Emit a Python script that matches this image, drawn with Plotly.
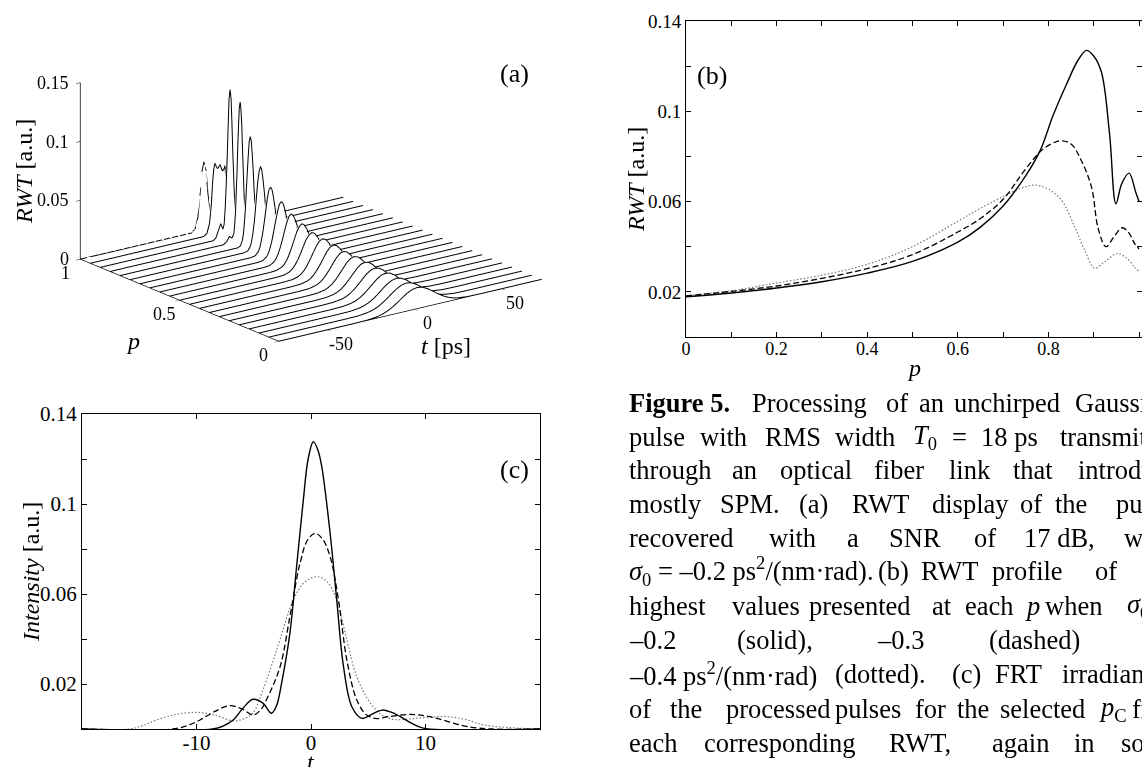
import plotly.graph_objects as go

# ---------------- panel (a): RWT waterfall ----------------
WF_P = [0.00, 0.05, 0.10, 0.15, 0.20, 0.25, 0.30, 0.35, 0.40, 0.45, 0.50,
        0.55, 0.60, 0.65, 0.70, 0.75, 0.80, 0.85, 0.90, 0.95, 1.00]

WF_T = [
    [-78, -35.3, -27.3, -21.5, -18.6, -15.8, -12.9, -10.0, -7.1, -4.3, -1.4, 1.5, 4.4, 7.3, 10.1, 13.0, 15.9, 18.8, 21.6, 24.5, 30.3, 38.3, 73],
    [-78, -34.2, -26.5, -21.0, -18.3, -15.5, -12.8, -10.0, -7.3, -4.5, -1.8, 1.0, 3.8, 6.5, 9.3, 12.0, 14.8, 17.5, 20.3, 23.0, 28.5, 36.2, 73],
    [-78, -32.6, -25.3, -20.0, -17.4, -14.8, -12.1, -9.5, -6.9, -4.3, -1.6, 1.0, 3.6, 6.3, 8.9, 11.5, 14.1, 16.8, 19.4, 22.0, 27.3, 34.6, 73],
    [-78, -31.5, -24.5, -19.5, -17.0, -14.5, -12.0, -9.5, -7.0, -4.5, -2.0, 0.5, 3.0, 5.5, 8.0, 10.5, 13.0, 15.5, 18.0, 20.5, 25.5, 32.5, 73],
    [-78, -30.4, -23.8, -19.0, -16.6, -14.3, -11.9, -9.5, -7.1, -4.8, -2.4, 0.0, 2.4, 4.8, 7.1, 9.5, 11.9, 14.3, 16.6, 19.0, 23.8, 30.4, 73],
    [-78, -28.8, -22.5, -18.0, -15.8, -13.5, -11.3, -9.0, -6.8, -4.5, -2.3, 0.0, 2.3, 4.5, 6.8, 9.0, 11.3, 13.5, 15.8, 18.0, 22.5, 28.8, 73],
    [-78, -27.7, -21.8, -17.5, -15.4, -13.3, -11.1, -9.0, -6.9, -4.8, -2.6, -0.5, 1.6, 3.8, 5.9, 8.0, 10.1, 12.3, 14.4, 16.5, 20.8, 26.7, 73],
    [-78, -26.6, -21.0, -17.0, -15.0, -13.0, -11.0, -9.0, -7.0, -5.0, -3.0, -1.0, 1.0, 3.0, 5.0, 7.0, 9.0, 11.0, 13.0, 15.0, 19.0, 24.6, 73],
    [-78, -25.0, -19.8, -16.0, -14.1, -12.3, -10.4, -8.5, -6.6, -4.8, -2.9, -1.0, 0.9, 2.8, 4.6, 6.5, 8.4, 10.3, 12.1, 14.0, 17.8, 23.0, 73],
    [-78, -23.9, -19.0, -15.5, -13.8, -12.0, -10.3, -8.5, -6.8, -5.0, -3.3, -1.5, 0.3, 2.0, 3.8, 5.5, 7.3, 9.0, 10.8, 12.5, 16.0, 20.9, 73],
    [-78, -22.8, -18.3, -15.0, -13.4, -11.8, -10.1, -8.5, -6.9, -5.3, -3.6, -2.0, -0.4, 1.3, 2.9, 4.5, 6.1, 7.8, 9.4, 11.0, 14.3, 18.8, 73],
    [-78, -20.4, -16.4, -13.5, -12.1, -10.6, -9.2, -7.8, -6.3, -4.9, -3.4, -2.0, -0.6, 0.9, 2.3, 3.8, 5.2, 6.6, 8.1, 9.5, 12.4, 16.4, 73],
    [-78, -18.5, -15.0, -12.5, -11.3, -10.0, -8.8, -7.5, -6.3, -5.0, -3.8, -2.5, -1.3, 0.0, 1.3, 2.5, 3.8, 5.0, 6.3, 7.5, 10.0, 13.5, 73],
    [-78, -16.1, -13.1, -11.0, -9.9, -8.9, -7.8, -6.8, -5.7, -4.6, -3.6, -2.5, -1.4, -0.4, 0.7, 1.8, 2.8, 3.9, 4.9, 6.0, 8.1, 11.1, 73],
    [-78, -14.2, -11.8, -10.0, -9.1, -8.3, -7.4, -6.5, -5.6, -4.8, -3.9, -3.0, -2.1, -1.3, -0.4, 0.5, 1.4, 2.3, 3.1, 4.0, 5.8, 8.2, 73],
    [-78, -12.3, -10.3, -8.8, -8.1, -7.4, -6.6, -5.9, -5.2, -4.5, -3.7, -3.0, -2.3, -1.6, -0.8, -0.1, 0.6, 1.4, 2.1, 2.8, 4.3, 6.3, 73],
    [-78, -10.4, -8.8, -7.7, -7.1, -6.6, -6.0, -5.5, -4.9, -4.3, -3.8, -3.2, -2.6, -2.1, -1.5, -1.0, -0.4, 0.2, 0.7, 1.3, 2.4, 4.0, 73],
    [-78, -13, -11, -9.5, -8.0, -6.9, -6.5, -6.0, -5.6, -5.1, -4.7, -4.2, -3.8, -3.3, -2.9, -2.4, -2.0, -1.5, -1.1, -0.6, -0.2, 0.3, 1.2, 2.5, 4.0, 6.0, 73],
    [-78, -13, -11.5, -10, -8.8, -7.5, -6.8, -6.2, -5.6, -5.0, -4.5, -4.0, -3.4, -2.8, -2.3, -1.8, -1.2, -0.6, 0, 0.6, 1.3, 2.3, 3.5, 5, 73],
    [-78, -13, -11, -9.5, -8.5, -7.7, -7.0, -6.4, -5.6, -4.9, -4.2, -3.5, -2.8, -2.1, -1.3, -0.6, 0.2, 1.0, 1.8, 2.8, 4.0, 5.5, 73],
    [-78, -14, -12, -10.5, -9.3, -8.2, -7.0, -5.8, -4.7, -3.5, -2.5, -1.5, -0.5, 0.5, 2, 4, 73],
]

WF_V = [
    [0, 0, 0.0002, 0.0011, 0.0022, 0.0038, 0.0061, 0.0090, 0.0122, 0.0151, 0.0172, 0.0180, 0.0172, 0.0151, 0.0122, 0.0090, 0.0061, 0.0038, 0.0022, 0.0011, 0.0002, 0, 0],
    [0, 0, 0.0002, 0.0012, 0.0022, 0.0039, 0.0063, 0.0093, 0.0125, 0.0156, 0.0177, 0.0185, 0.0177, 0.0156, 0.0125, 0.0093, 0.0063, 0.0039, 0.0022, 0.0012, 0.0002, 0, 0],
    [0, 0, 0.0002, 0.0012, 0.0023, 0.0040, 0.0064, 0.0095, 0.0129, 0.0160, 0.0182, 0.0190, 0.0182, 0.0160, 0.0129, 0.0095, 0.0064, 0.0040, 0.0023, 0.0012, 0.0002, 0, 0],
    [0, 0, 0.0003, 0.0013, 0.0024, 0.0042, 0.0068, 0.0100, 0.0135, 0.0168, 0.0192, 0.0200, 0.0192, 0.0168, 0.0135, 0.0100, 0.0068, 0.0042, 0.0024, 0.0013, 0.0003, 0, 0],
    [0, 0, 0.0003, 0.0013, 0.0025, 0.0044, 0.0071, 0.0105, 0.0142, 0.0177, 0.0201, 0.0210, 0.0201, 0.0177, 0.0142, 0.0105, 0.0071, 0.0044, 0.0025, 0.0013, 0.0003, 0, 0],
    [0, 0, 0.0003, 0.0014, 0.0027, 0.0047, 0.0076, 0.0113, 0.0152, 0.0189, 0.0216, 0.0225, 0.0216, 0.0189, 0.0152, 0.0113, 0.0076, 0.0047, 0.0027, 0.0014, 0.0003, 0, 0],
    [0, 0, 0.0003, 0.0015, 0.0029, 0.0050, 0.0081, 0.0120, 0.0162, 0.0202, 0.0230, 0.0240, 0.0230, 0.0202, 0.0162, 0.0120, 0.0081, 0.0050, 0.0029, 0.0015, 0.0003, 0, 0],
    [0, 0, 0.0003, 0.0016, 0.0030, 0.0053, 0.0085, 0.0125, 0.0169, 0.0210, 0.0240, 0.0250, 0.0240, 0.0210, 0.0169, 0.0125, 0.0085, 0.0053, 0.0030, 0.0016, 0.0003, 0, 0],
    [0, 0, 0.0004, 0.0017, 0.0032, 0.0057, 0.0092, 0.0135, 0.0183, 0.0227, 0.0259, 0.0270, 0.0259, 0.0227, 0.0183, 0.0135, 0.0092, 0.0057, 0.0032, 0.0017, 0.0004, 0, 0],
    [0, 0, 0.0004, 0.0018, 0.0035, 0.0061, 0.0098, 0.0145, 0.0196, 0.0244, 0.0278, 0.0290, 0.0278, 0.0244, 0.0196, 0.0145, 0.0098, 0.0061, 0.0035, 0.0018, 0.0004, 0, 0],
    [0, 0, 0.0004, 0.0019, 0.0037, 0.0065, 0.0105, 0.0155, 0.0210, 0.0261, 0.0297, 0.0310, 0.0297, 0.0261, 0.0210, 0.0155, 0.0105, 0.0065, 0.0037, 0.0019, 0.0004, 0, 0],
    [0, 0, 0.0005, 0.0022, 0.0042, 0.0074, 0.0119, 0.0175, 0.0237, 0.0294, 0.0335, 0.0350, 0.0335, 0.0294, 0.0237, 0.0175, 0.0119, 0.0074, 0.0042, 0.0022, 0.0005, 0, 0],
    [0, 0, 0.0005, 0.0025, 0.0048, 0.0084, 0.0136, 0.0200, 0.0271, 0.0336, 0.0383, 0.0400, 0.0383, 0.0336, 0.0271, 0.0200, 0.0136, 0.0084, 0.0048, 0.0025, 0.0005, 0, 0],
    [0, 0, 0.0006, 0.0029, 0.0056, 0.0099, 0.0159, 0.0235, 0.0318, 0.0395, 0.0450, 0.0470, 0.0450, 0.0395, 0.0318, 0.0235, 0.0159, 0.0099, 0.0056, 0.0029, 0.0006, 0, 0],
    [0, 0, 0.0007, 0.0035, 0.0067, 0.0118, 0.0190, 0.0280, 0.0379, 0.0471, 0.0536, 0.0560, 0.0536, 0.0471, 0.0379, 0.0280, 0.0190, 0.0118, 0.0067, 0.0035, 0.0007, 0, 0],
    [0, 0, 0.0009, 0.0044, 0.0084, 0.0147, 0.0237, 0.0350, 0.0474, 0.0589, 0.0671, 0.0700, 0.0671, 0.0589, 0.0474, 0.0350, 0.0237, 0.0147, 0.0084, 0.0044, 0.0009, 0, 0],
    [0, 0, 0.0012, 0.0058, 0.0110, 0.0193, 0.0312, 0.0460, 0.0623, 0.0774, 0.0881, 0.0920, 0.0881, 0.0774, 0.0623, 0.0460, 0.0312, 0.0193, 0.0110, 0.0058, 0.0012, 0, 0],
    [0, 0, 0.002, 0.006, 0.004, 0.0074, 0.0142, 0.0248, 0.040, 0.059, 0.0799, 0.0992, 0.113, 0.118, 0.113, 0.0992, 0.0799, 0.059, 0.040, 0.0248, 0.0142, 0.0074, 0.002, 0.005, 0.001, 0, 0],
    [0, 0, 0.002, 0.008, 0.013, 0.008, 0.012, 0.025, 0.045, 0.070, 0.095, 0.117, 0.125, 0.117, 0.095, 0.070, 0.045, 0.022, 0.008, 0.004, 0.006, 0.008, 0.003, 0, 0],
    [0, 0, 0.002, 0.010, 0.025, 0.045, 0.056, 0.060, 0.057, 0.055, 0.056, 0.058, 0.055, 0.052, 0.053, 0.056, 0.036, 0.012, 0.003, 0.004, 0.003, 0, 0],
    [0, 0, 0.003, 0.012, 0.030, 0.050, 0.058, 0.050, 0.030, 0.016, 0.020, 0.030, 0.030, 0.020, 0.008, 0, 0],
]

# ---------------- panel (b): RWT profile of highest values ----------------
B_P_SOLID = [0, 0.1, 0.2, 0.3, 0.4, 0.5, 0.6, 0.65, 0.7, 0.75, 0.782, 0.81, 0.84, 0.865,
             0.884, 0.9, 0.917, 0.935, 0.949, 0.962, 0.978, 0.993, 1.0]
B_V_SOLID = [0.0178, 0.0195, 0.0217, 0.0245, 0.0283, 0.0335, 0.042, 0.0487, 0.058, 0.0715,
             0.0827, 0.098, 0.112, 0.1225, 0.127, 0.1245, 0.1174, 0.090, 0.059, 0.068,
             0.0726, 0.064, 0.060]
B_P_DASHED = [0, 0.1, 0.2, 0.3, 0.4, 0.5, 0.6, 0.65, 0.7, 0.75, 0.79, 0.826, 0.85, 0.873,
              0.895, 0.91, 0.927, 0.945, 0.963, 0.978, 0.99, 1.0]
B_V_DASHED = [0.0182, 0.0202, 0.0226, 0.026, 0.0303, 0.0365, 0.0465, 0.0525, 0.061, 0.0745,
              0.0835, 0.0869, 0.0855, 0.078, 0.0665, 0.048, 0.040, 0.0445, 0.0484, 0.046,
              0.0415, 0.039]
B_P_DOTTED = [0, 0.1, 0.2, 0.3, 0.4, 0.5, 0.6, 0.65, 0.7, 0.74, 0.771, 0.8, 0.829, 0.858,
              0.88, 0.902, 0.925, 0.952, 0.975, 0.99, 1.0]
B_V_DOTTED = [0.0183, 0.0205, 0.0239, 0.0274, 0.0322, 0.040, 0.0513, 0.057, 0.0622, 0.0660,
              0.0673, 0.0655, 0.0606, 0.0488, 0.0385, 0.0305, 0.0335, 0.037, 0.0345, 0.031,
              0.029]

# ---------------- panel (c): FRT irradiance ----------------
C_T_SOLID = [-20, -8.6, -7.6, -6.8, -5.9, -5.06, -4.2, -3.45, -3.0, -2.57, -1.84, -1.26,
             -0.67, -0.25, 0.2, 0.6, 0.94, 1.67, 2.25, 2.84, 3.57, 4.45, 5.3, 6.2, 7.0,
             7.8, 8.8, 9.8, 20]
C_V_SOLID = [0, 0, 0.0015, 0.004, 0.0095, 0.0132, 0.0115, 0.0070, 0.0105, 0.0203, 0.0427,
             0.072, 0.1018, 0.120, 0.1277, 0.124, 0.1166, 0.087, 0.0573, 0.0277, 0.0099,
             0.0047, 0.0065, 0.0084, 0.0075, 0.0055, 0.0025, 0.0004, 0]
C_T_DASHED = [-20, -12.1, -10.8, -9.7, -8.4, -7.1, -6.0, -5.06, -4.4, -3.9, -2.7, -1.84,
              -0.96, -0.3, 0.35, 1.0, 1.67, 2.4, 3.13, 4.0, 4.8, 5.6, 6.8, 8.7, 10.0, 11.0,
              12.3, 13.7, 15.8, 20]
C_V_DASHED = [0, 0, 0.0015, 0.004, 0.0078, 0.0104, 0.0088, 0.0062, 0.0085, 0.0129, 0.0277,
              0.050, 0.0737, 0.084, 0.087, 0.0845, 0.0766, 0.0573, 0.0307, 0.0129, 0.0065,
              0.0047, 0.0055, 0.0065, 0.0058, 0.0047, 0.0028, 0.001, 0, 0]
C_T_DOTTED = [-20, -15.9, -14.7, -13.5, -11.8, -10.0, -8.4, -6.8, -5.9, -5.1, -4.2, -3.0,
              -1.55, -0.6, 0.5, 1.4, 2.25, 3.13, 4.0, 5.2, 6.2, 7.3, 8.6, 10.2, 11.9, 13.5,
              15.1, 18.0, 20]
C_V_DOTTED = [0, 0, 0.0015, 0.004, 0.0065, 0.0074, 0.0062, 0.0036, 0.0045, 0.007, 0.0173,
              0.035, 0.0573, 0.065, 0.0677, 0.0655, 0.0573, 0.0396, 0.0232, 0.0114, 0.0062,
              0.0042, 0.0045, 0.0052, 0.0055, 0.0042, 0.0018, 0.0004, 0]

TICKS_A_T = [-50, 0, 50]
TICKTEXT_A_T = ["-50", "0", "50"]
TICKS_A_P = [0, 0.5, 1]
TICKTEXT_A_P = ["0", "0.5", "1"]
TICKS_A_Z = [0, 0.05, 0.1, 0.15]
TICKTEXT_A_Z = ["0", "0.05", "0.1", "0.15"]
TICKS_B_X = [0, 0.1, 0.2, 0.3, 0.4, 0.5, 0.6, 0.7, 0.8, 0.9, 1.0]
TICKTEXT_B_X = ["0", "", "0.2", "", "0.4", "", "0.6", "", "0.8", "", ""]
TICKS_Y = [0, 0.02, 0.04, 0.06, 0.08, 0.10, 0.12, 0.14]
TICKTEXT_Y = ["", "0.02", "", "0.06", "", "0.1", "", "0.14"]
TICKS_C_X = [-10, 0, 10]

T_RANGE = [-78, 73]
P_RANGE = [0, 1]
Z_RANGE = [0, 0.15]

W, H = 1142, 767
SERIF = "Liberation Serif"

fig = go.Figure()

# ---- panel (a) traces ----
for p, ts, vs in zip(WF_P, WF_T, WF_V):
    n = len(ts)
    xs, ys, zs = [], [], []
    for t, v in zip(ts, vs):
        xs += [t, t]
        ys += [p + 0.006, p + 0.006]
        zs += [0, v]
    ii, jj, kk = [], [], []
    for s in range(n - 1):
        a, b, c, d = 2 * s, 2 * s + 1, 2 * s + 2, 2 * s + 3
        ii += [a, b]
        jj += [b, d]
        kk += [c, c]
    fig.add_trace(go.Mesh3d(x=xs, y=ys, z=zs, i=ii, j=jj, k=kk, color="white",
                            flatshading=True, hoverinfo="skip", showscale=False,
                            lighting=dict(ambient=1, diffuse=0, specular=0, roughness=1, fresnel=0),
                            scene="scene"))
    fig.add_trace(go.Scatter3d(x=ts, y=[p] * n, z=vs, mode="lines",
                               line=dict(color="black", width=2), hoverinfo="skip",
                               showlegend=False, scene="scene"))

# ---- panel (b) traces ----
fig.add_trace(go.Scatter(x=B_P_DOTTED, y=B_V_DOTTED, mode="lines", line_shape="spline",
                         line=dict(color="#777777", width=1.2, dash="1.5px,2px"),
                         xaxis="x2", yaxis="y2", showlegend=False))
fig.add_trace(go.Scatter(x=B_P_DASHED, y=B_V_DASHED, mode="lines", line_shape="spline",
                         line=dict(color="black", width=1.3, dash="6px,3px"),
                         xaxis="x2", yaxis="y2", showlegend=False))
fig.add_trace(go.Scatter(x=B_P_SOLID, y=B_V_SOLID, mode="lines", line_shape="spline",
                         line=dict(color="black", width=1.4),
                         xaxis="x2", yaxis="y2", showlegend=False))

# ---- panel (c) traces ----
fig.add_trace(go.Scatter(x=C_T_DOTTED, y=C_V_DOTTED, mode="lines", line_shape="spline",
                         line=dict(color="#777777", width=1.2, dash="1.5px,2px"),
                         xaxis="x3", yaxis="y3", showlegend=False))
fig.add_trace(go.Scatter(x=C_T_DASHED, y=C_V_DASHED, mode="lines", line_shape="spline",
                         line=dict(color="black", width=1.3, dash="6px,3px"),
                         xaxis="x3", yaxis="y3", showlegend=False))
fig.add_trace(go.Scatter(x=C_T_SOLID, y=C_V_SOLID, mode="lines", line_shape="spline",
                         line=dict(color="black", width=1.4),
                         xaxis="x3", yaxis="y3", showlegend=False))


def ax3d(rng, tv):
    return dict(range=rng, tickvals=tv, showticklabels=False, showgrid=False,
                zeroline=False, showbackground=False, showline=True, linecolor="black",
                linewidth=1.5, ticks="outside", ticklen=5, tickcolor="black",
                showspikes=False, title=dict(text=""))


# tick labels of the 3-D panel, placed at the tick positions through the scene projection
tick_font = dict(family=SERIF, size=18, color="black")
scene_ann = []
for zv, zt in zip(TICKS_A_Z, TICKTEXT_A_Z):
    scene_ann.append(dict(x=T_RANGE[0], y=P_RANGE[1], z=zv, text=zt, showarrow=False,
                          xanchor="right", yanchor="middle", xshift=-9, font=tick_font))
for pv, pt in zip(TICKS_A_P, TICKTEXT_A_P):
    scene_ann.append(dict(x=T_RANGE[0], y=pv, z=0, text=pt, showarrow=False,
                          xanchor="center", yanchor="middle", xshift=-15, yshift=-14,
                          font=tick_font))
for tv, tt in zip(TICKS_A_T, TICKTEXT_A_T):
    scene_ann.append(dict(x=tv, y=P_RANGE[0], z=0, text=tt, showarrow=False,
                          xanchor="center", yanchor="middle", xshift=13, yshift=-14,
                          font=tick_font))

S = 1.82
common2d = dict(showgrid=False, zeroline=False, showline=True, linecolor="black",
                linewidth=1, ticks="inside", ticklen=5, tickcolor="black", mirror="ticks")

fig.update_layout(
    width=W, height=H, margin=dict(l=0, r=0, t=0, b=0, autoexpand=False),
    paper_bgcolor="white", plot_bgcolor="white", showlegend=False,
    font=dict(family=SERIF, color="black"),
    scene=dict(
        domain=dict(x=[0, 0.5447], y=[0.528, 1.0]),
        xaxis=ax3d(T_RANGE, TICKS_A_T),
        yaxis=ax3d(P_RANGE, TICKS_A_P),
        zaxis=ax3d(Z_RANGE, TICKS_A_Z),
        aspectmode="manual", aspectratio=dict(x=1.0 * S, y=1.0 * S, z=0.564 * S),
        camera=dict(eye=dict(x=-0.572 * 2, y=-0.758 * 2, z=0.312 * 2),
                    up=dict(x=0, y=0, z=1), center=dict(x=0, y=0, z=0),
                    projection=dict(type="orthographic")),
        bgcolor="rgba(0,0,0,0)",
        annotations=scene_ann,
    ),
    xaxis2=dict(domain=[686 / W, 1.0], range=[0, 1.0066], tickvals=TICKS_B_X,
                ticktext=TICKTEXT_B_X, anchor="y2", ticklabelstandoff=-5,
                tickfont=dict(family=SERIF, size=18), **common2d),
    yaxis2=dict(domain=[1 - 337 / H, 1 - 21 / H], range=[0, 0.14], tickvals=TICKS_Y,
                ticktext=TICKTEXT_Y, anchor="x2",
                tickfont=dict(family=SERIF, size=19), **common2d),
    xaxis3=dict(domain=[82 / W, 540 / W], range=[-20, 20], tickvals=TICKS_C_X,
                ticktext=["-10", "0", "10"], anchor="y3", ticklabelstandoff=-5,
                tickfont=dict(family=SERIF, size=21), **common2d),
    yaxis3=dict(domain=[1 - 729 / H, 1 - 414 / H], range=[0, 0.14], tickvals=TICKS_Y,
                ticktext=TICKTEXT_Y, anchor="x3",
                tickfont=dict(family=SERIF, size=21), **common2d),
)


def ann(text, xpx, ypx, size=25, xanchor="center", angle=0):
    fig.add_annotation(text=text, x=xpx / W, y=1 - ypx / H, xref="paper", yref="paper",
                       showarrow=False, xanchor=xanchor, yanchor="middle", textangle=angle,
                       font=dict(family=SERIF, size=size, color="black"))


# panel labels and axis titles
ann("(a)", 514, 74, 26)
ann("(b)", 712, 75, 26)
ann("(c)", 514, 469, 26)
ann("<i>RWT</i> [a.u.]", 24, 172, 24, angle=-90)
ann("<i>p</i>", 133, 341, 24)
ann("<i>t</i> [ps]", 446, 346, 24)
ann("<i>RWT</i> [a.u.]", 636, 180, 24, angle=-90)
ann("<i>p</i>", 914, 368, 24)
ann("<i>Intensity</i> [a.u.]", 31, 572, 24, angle=-90)
ann("<i>t</i>", 311, 762, 24)

# caption (justified text, placed word by word)
CAPTION = [
    (403, [("<b>Figure 5.</b>", 627), ("Processing", 750), ("of", 884), ("an", 917),
           ("unchirped", 952), ("Gaussian", 1073)]),
    (437, [("pulse", 627), ("with", 698), ("RMS", 763), ("width", 833),
           ("<i>T</i><sub>0</sub>", 911), ("=", 950), ("18 ps", 979), ("transmitted", 1058)]),
    (470, [("through", 627), ("an", 730), ("optical", 778), ("fiber", 872), ("link", 947),
           ("that", 1011), ("introduces", 1076)]),
    (504, [("mostly", 627), ("SPM.", 718), ("(a)", 797), ("RWT", 850), ("display", 930),
           ("of", 1018), ("the", 1053), ("pulse", 1114)]),
    (538, [("recovered", 627), ("with", 767), ("a", 845), ("SNR", 887), ("of", 972),
           ("17 dB,", 1022), ("when", 1122)]),
    (571, [("<i>σ</i><sub>0</sub> = –0.2 ps<sup>2</sup>/(nm·rad).", 627), ("(b)", 876),
           ("RWT", 919), ("profile", 990), ("of", 1093)]),
    (606, [("highest", 627), ("values", 730), ("presented", 807), ("at", 930), ("each", 963),
           ("<i>p</i>", 1023), ("when", 1043), ("<i>σ</i><sub>0</sub>", 1125)]),
    (640, [("–0.2", 627), ("(solid),", 735), ("–0.3", 875), ("(dashed)", 987)]),
    (674, [("–0.4 ps<sup>2</sup>/(nm·rad)", 627), ("(dotted).", 833), ("(c)", 950),
           ("FRT", 993), ("irradiance", 1060)]),
    (709, [("of", 627), ("the", 668), ("processed", 724), ("pulses", 833), ("for", 913),
           ("the", 955), ("selected", 998), ("<i>p</i><sub>C</sub>", 1097), ("from", 1130)]),
    (743, [("each", 627), ("corresponding", 702), ("RWT,", 887), ("again", 990), ("in", 1072),
           ("solid,", 1119)]),
]
for ypx, words in CAPTION:
    for txt, xpx in words:
        ann(txt, xpx, ypx, 26.5, xanchor="left")

fig.write_html("out.html", config={"displayModeBar": False},
               post_script="document.body.style.margin='0';document.body.style.padding='0';"
                           "document.body.style.overflow='hidden';")
